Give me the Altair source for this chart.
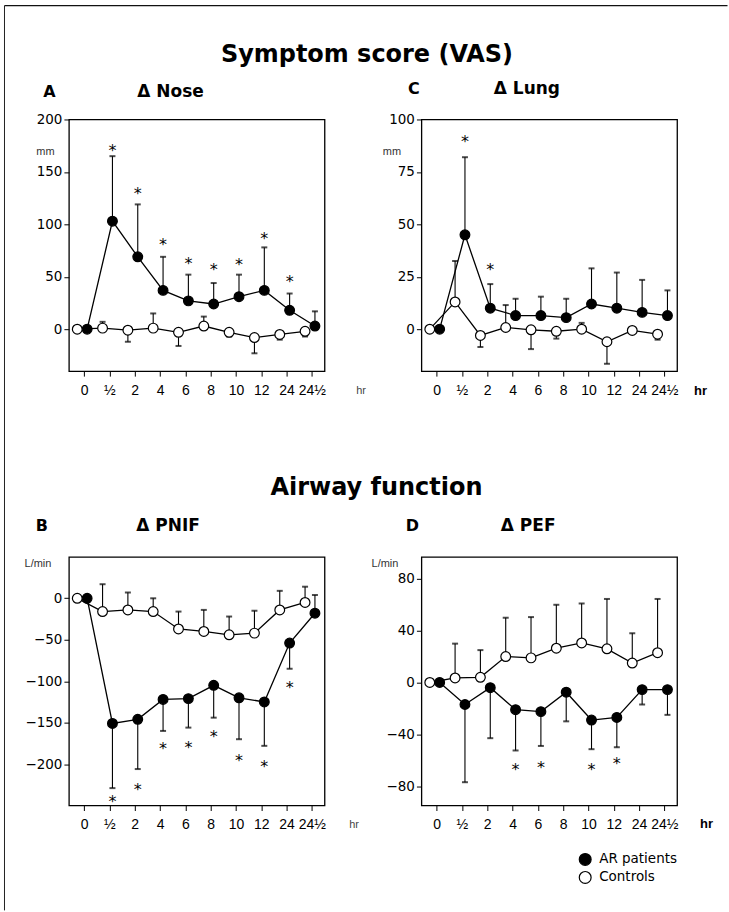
import altair as alt
import pandas as pd

# ---------------- data ----------------
times = ["0", "½", "2", "4", "6", "8", "10", "12", "24", "24½"]

# A: Δ Nose (VAS, mm)
nose_ar = [0, 103, 69, 37, 27, 24, 31, 37, 18, 3]
nose_ar_bar = [None, 165, 119, 69, 52, 44, 52, 78, 34, 17]
nose_ctrl = [0, 1, -1, 1, -3, 3, -3, -8, -5, -2]
nose_ctrl_bar = [None, 7, -12, 15, -16, 12, -7, -23, -10, -7]
nose_star = [None, 174, 133, 84, 66, 60, 65, 90, 49, None]

# C: Δ Lung (VAS, mm)
lung_ar = [0, 45, 10, 6.5, 6.5, 5.5, 12, 10, 8, 6.5]
lung_ar_bar = [None, 82, 21.5, 14.5, 15.5, 14.5, 29, 27, 23.5, 18.5]
lung_ctrl = [0, 13, -3, 0.8, -0.3, -1, 0, -6, -0.6, -2.4]
lung_ctrl_bar = [None, 32.5, -8.5, 11.5, -9.5, -4.5, 3, -16.5, None, -5]
lung_star = [None, 91, 30, None, None, None, None, None, None, None]

# B: Δ PNIF (L/min)
pnif_ar = [0, -151, -146, -122, -121, -105, -120, -125, -54, -18]
pnif_ar_bar = [None, -229, -206, -160, -156, -144, -170, -178, -85, 4]
pnif_ctrl = [0, -16, -14, -16, -37, -40, -44, -42, -14, -5]
pnif_ctrl_bar = [None, 17, 7, 0, -16, -14, -22, -15, 9, 14]
pnif_star = [None, -241, -226, -177, -176, -163, -192, -199, -103, None]

# D: Δ PEF (L/min)
pef_ar = [0, -17, -4, -21, -22.5, -7.5, -29, -27, -5.5, -5.5]
pef_ar_bar = [None, -77, -43, -52.5, -49, -30, -51.5, -50, -17, -25]
pef_ctrl = [0, 3.5, 4, 20, 19, 26.5, 30.5, 26, 15, 23]
pef_ctrl_bar = [None, 30, 25, 50, 50.5, 60, 61, 64.5, 38, 64.5]
pef_star = [None, None, None, -64.5, -63, None, -64.5, -60, None, None]

groups = ["AR patients", "Controls"]

AR_OFF = 0.12
CT_OFF = -0.27
W = 256
H1 = 252
H2 = 249

label_expr = "[" + ",".join("'" + t + "'" for t in times) + "][datum.value]"


def txt(s, x, y, size, weight="normal", align="left", baseline="alphabetic",
        font="DejaVu Sans", color="black"):
    return alt.Chart(pd.DataFrame({"t": [s]})).mark_text(
        align=align, baseline=baseline, fontSize=size, fontWeight=weight,
        font=font, color=color
    ).encode(x=alt.value(x), y=alt.value(y), text="t:N")


def panel(ar, ar_bar, ctrl, ctrl_bar, star, ydom, yticks, h, legend, extras):
    rows = []
    for i in range(len(times)):
        rows.append(dict(pos=i + AR_OFF, group=groups[0], value=ar[i],
                         bar=ar_bar[i], star=star[i]))
        rows.append(dict(pos=i + CT_OFF, group=groups[1], value=ctrl[i],
                         bar=ctrl_bar[i], star=None))
    df = pd.DataFrame(rows)
    base = alt.Chart(df)
    xs = alt.Scale(domain=[-0.6, 9.5], nice=False, zero=False)
    xa = alt.Axis(values=list(range(len(times))), labelExpr=label_expr, title=None,
                  grid=False, domain=False, tickSize=5, labelPadding=7,
                  labelFont="Liberation Sans", labelFontSize=14, labelColor="black",
                  tickColor="black", labelAngle=0)
    ys = alt.Scale(domain=ydom, nice=False, zero=False)
    ya = alt.Axis(values=yticks, title=None, grid=False, domain=False, tickSize=5,
                  labelPadding=2, labelFont="DejaVu Sans", labelFontSize=13.5,
                  labelColor="black", tickColor="black")
    X = alt.X("pos:Q", scale=xs, axis=xa)

    def Y(f):
        return alt.Y(f, scale=ys, axis=ya)

    line = base.mark_line(color="black", strokeWidth=1.3).encode(
        x=X, y=Y("value:Q"), detail="group:N")
    stems = base.transform_filter("isValid(datum.bar)").mark_rule(
        color="black", strokeWidth=1.1).encode(x=X, y=Y("value:Q"), y2="bar:Q")
    caps = base.transform_filter("isValid(datum.bar)").mark_tick(
        orient="horizontal", size=6, thickness=2, color="black").encode(
        x=X, y=Y("bar:Q"))
    if legend:
        leg = alt.Legend(orient="none", legendX=157, legendY=296, title=None,
                         symbolType="circle", symbolSize=140,
                         symbolStrokeColor="black", symbolStrokeWidth=1.2,
                         labelFont="DejaVu Sans", labelFontSize=13.5,
                         labelColor="black", rowPadding=0, padding=0,
                         labelOffset=7)
    else:
        leg = None
    pts = base.mark_circle(size=95, stroke="black", strokeWidth=1.2, opacity=1).encode(
        x=X, y=Y("value:Q"),
        fill=alt.Fill("group:N", scale=alt.Scale(domain=groups, range=["black", "white"]),
                      legend=leg))
    stars = base.transform_filter("isValid(datum.star)").mark_text(
        text="*", fontSize=16, font="DejaVu Sans", baseline="alphabetic", dy=9,
        color="black").encode(x=X, y=Y("star:Q"))
    return alt.layer(line, stems, caps, pts, stars, *extras).properties(width=W, height=h)


frame = [
    alt.Chart(pd.DataFrame({"a": [0]})).mark_rule(color="#222", strokeWidth=1).encode(
        x=alt.value(-64.5), y=alt.value(-114), y2=alt.value(792)),
    alt.Chart(pd.DataFrame({"a": [0]})).mark_rule(color="#111", strokeWidth=1.3).encode(
        x=alt.value(-64.5), x2=alt.value(659.5), y=alt.value(-114)),
]

A = panel(nose_ar, nose_ar_bar, nose_ctrl, nose_ctrl_bar, nose_star,
          [-40, 200], [0, 50, 100, 150, 200], H1, False,
          frame + [
              txt("Symptom score (VAS)", 298.5, -58, 24, "bold", "center"),
              txt("A", -19.5, -22, 16, "bold", "center"),
              txt("Δ Nose", 68.5, -22, 17, "bold"),
              txt("mm", -23.5, 33, 11, "normal", "center", "middle", "Liberation Sans", "#333"),
              txt("hr", 292.5, 272, 11, "normal", "center", "middle", "Liberation Sans", "#444"),
          ])

C = panel(lung_ar, lung_ar_bar, lung_ctrl, lung_ctrl_bar, lung_star,
          [-20, 100], [0, 25, 50, 75, 100], H1, False,
          [
              txt("C", -7.5, -25, 16, "bold", "center"),
              txt("Δ Lung", 72.5, -25, 17, "bold"),
              txt("mm", -29.5, 33, 11, "normal", "center", "middle", "Liberation Sans", "#333"),
              txt("hr", 279.5, 272, 13, "bold", "center", "middle", "Liberation Sans"),
          ])

B = panel(pnif_ar, pnif_ar_bar, pnif_ctrl, pnif_ctrl_bar, pnif_star,
          [-250, 50], [-200, -150, -100, -50, 0], H2, False,
          [
              txt("Airway function", 308, -62, 24, "bold", "center"),
              txt("B", -27, -26, 16, "bold", "center"),
              txt("Δ PNIF", 67.5, -26, 17, "bold"),
              txt("L/min", -31, 7, 11, "normal", "center", "middle", "Liberation Sans", "#333"),
              txt("hr", 285.5, 269, 11, "normal", "center", "middle", "Liberation Sans", "#444"),
          ])

D = panel(pef_ar, pef_ar_bar, pef_ctrl, pef_ctrl_bar, pef_star,
          [-95, 97], [-80, -40, 0, 40, 80], H2, True,
          [
              txt("D", -9, -26, 16, "bold", "center"),
              txt("Δ PEF", 79.5, -26, 17, "bold"),
              txt("L/min", -36.5, 7, 11, "normal", "center", "middle", "Liberation Sans", "#333"),
              txt("hr", 285.5, 268, 13, "bold", "center", "middle", "Liberation Sans"),
          ])

chart = alt.concat(
    A, C, B, D, columns=2, spacing={"row": 186, "column": 97}, bounds="flush"
).resolve_scale(
    fill="independent"
).resolve_legend(
    fill="independent"
).properties(
    padding={"left": 3, "top": 3, "right": 0, "bottom": 0},
    background="white",
).configure_view(stroke="black", strokeWidth=1.3)

chart.save("out.html", embed_options={"renderer": "svg", "actions": False})
